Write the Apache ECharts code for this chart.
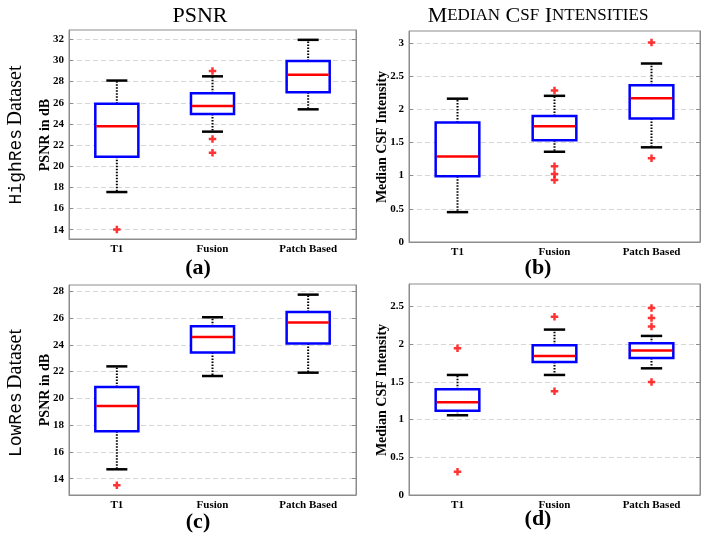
<!DOCTYPE html>
<html><head><meta charset="utf-8">
<script src="https://cdn.jsdelivr.net/npm/echarts@6/dist/echarts.min.js"></script>
<style>html,body{margin:0;padding:0;background:#fff}#c{width:708px;height:541px}</style>
</head><body><div id="c"></div><script>
// ---------- data ----------
const categories = ['T1', 'Fusion', 'Patch Based'];
// each box: [lower whisker, Q1, median, Q3, upper whisker]
const psnrHighBoxes = [[17.56, 20.89, 23.78, 25.90, 28.10], [23.27, 24.95, 25.69, 26.90, 28.50], [25.38, 27.00, 28.66, 29.95, 31.95]];
const psnrHighOutliers = [[0, 14.03], [1, 29.00], [1, 22.57], [1, 21.27]];
const csfHighBoxes = [[0.45, 0.99, 1.29, 1.80, 2.16], [1.36, 1.533, 1.743, 1.898, 2.203], [1.427, 1.863, 2.168, 2.364, 2.69]];
const csfHighOutliers = [[1, 2.284], [1, 1.142], [1, 1.026], [1, 0.936], [2, 3.005], [2, 1.262]];
const psnrLowBoxes = [[14.70, 17.54, 19.43, 20.85, 22.39], [21.67, 23.42, 24.59, 25.38, 26.06], [21.92, 24.09, 25.66, 26.46, 27.75]];
const psnrLowOutliers = [[0, 13.50]];
const csfLowBoxes = [[1.058, 1.119, 1.230, 1.403, 1.593], [1.593, 1.765, 1.845, 1.987, 2.195], [1.681, 1.819, 1.916, 2.013, 2.111]];
const csfLowOutliers = [[0, 1.947], [0, 0.31], [1, 2.367], [1, 1.376], [2, 2.482], [2, 2.35], [2, 2.235], [2, 1.50]];
const psnrHighTicks = [14, 16, 18, 20, 22, 24, 26, 28, 30, 32];
const csfHighTicks = [0, 0.5, 1, 1.5, 2, 2.5, 3];
const psnrLowTicks = [14, 16, 18, 20, 22, 24, 26, 28];
const csfLowTicks = [0, 0.5, 1, 1.5, 2, 2.5];
const psnrHighLimits = [13.12, 32.88];
const csfHighLimits = [0, 3.18];
const psnrLowLimits = [12.78, 28.47];
const csfLowLimits = [0, 2.8];
const columnTitles = ['PSNR', 'Median CSF Intensities'];
const rowLabels = [['HighRes', 'Dataset'], ['LowRes', 'Dataset']];
const yNames = ['PSNR in dB', 'Median CSF Intensity', 'PSNR in dB', 'Median CSF Intensity'];
const panelLabels = ['(a)', '(b)', '(c)', '(d)'];

// ---------- layout ----------
const grids = [
  {left: 69, top: 30, width: 287, height: 209},
  {left: 409, top: 31, width: 291, height: 211},
  {left: 69, top: 285, width: 287, height: 210},
  {left: 409, top: 284, width: 291, height: 211}
];
const panels = [
  {boxes: psnrHighBoxes, outliers: psnrHighOutliers, ticks: psnrHighTicks, lim: psnrHighLimits},
  {boxes: csfHighBoxes, outliers: csfHighOutliers, ticks: csfHighTicks, lim: csfHighLimits},
  {boxes: psnrLowBoxes, outliers: psnrLowOutliers, ticks: psnrLowTicks, lim: psnrLowLimits},
  {boxes: csfLowBoxes, outliers: csfLowOutliers, ticks: csfLowTicks, lim: csfLowLimits}
];
const SERIF = "'Liberation Serif', 'DejaVu Serif', serif";
const MONO = "'Liberation Mono', 'DejaVu Sans Mono', monospace";

function renderBox(params, api) {
  const x = api.value(0);
  const lo = api.coord([x, api.value(1)]);
  const q1 = api.coord([x, api.value(2)]);
  const md = api.coord([x, api.value(3)]);
  const q3 = api.coord([x, api.value(4)]);
  const hi = api.coord([x, api.value(5)]);
  const band = api.size([1, 0])[0];
  const bw = band * 0.45, cw = band * 0.22;
  const cx = lo[0];
  const dot = {stroke: '#000', lineWidth: 2, lineDash: [1.5, 1.5]};
  const cap = {stroke: '#000', lineWidth: 2.5};
  return {type: 'group', children: [
    {type: 'line', shape: {x1: cx, y1: q3[1], x2: cx, y2: hi[1]}, style: dot},
    {type: 'line', shape: {x1: cx, y1: q1[1], x2: cx, y2: lo[1]}, style: dot},
    {type: 'line', shape: {x1: cx - cw / 2, y1: hi[1], x2: cx + cw / 2, y2: hi[1]}, style: cap},
    {type: 'line', shape: {x1: cx - cw / 2, y1: lo[1], x2: cx + cw / 2, y2: lo[1]}, style: cap},
    {type: 'rect', shape: {x: cx - bw / 2, y: q3[1], width: bw, height: q1[1] - q3[1]}, style: {fill: '#fff', stroke: '#0000ff', lineWidth: 2.5}},
    {type: 'line', shape: {x1: cx - bw / 2 + 1, y1: md[1], x2: cx + bw / 2 - 1, y2: md[1]}, style: {stroke: '#ff0000', lineWidth: 2.5}}
  ]};
}

const xAxis = [], yAxis = [], series = [], grid = [];
panels.forEach((p, i) => {
  grid.push(Object.assign({show: true, borderColor: '#8c8c8c', borderWidth: 1, backgroundColor: '#fff'}, grids[i]));
  xAxis.push({
    type: 'category', gridIndex: i, data: categories, boundaryGap: true,
    axisTick: {show: false},
    axisLine: {lineStyle: {color: '#8c8c8c', width: 1}},
    axisLabel: {margin: 5, color: '#000', fontFamily: SERIF, fontWeight: 'bold', fontSize: 11},
    splitLine: {show: false}
  });
  yAxis.push({
    type: 'value', gridIndex: i, min: p.lim[0], max: p.lim[1],
    axisLine: {show: true, lineStyle: {color: '#8c8c8c', width: 1}},
    axisTick: {show: true, inside: true, length: 4, customValues: p.ticks, lineStyle: {color: '#8c8c8c'}},
    axisLabel: {customValues: p.ticks, margin: 5, color: '#000', fontFamily: SERIF, fontWeight: 'bold', fontSize: 11},
    splitLine: {show: true, lineStyle: {color: '#d6d6d6', type: [5, 3], width: 1}}
  });
  yAxis.push({
    type: 'value', gridIndex: i, min: p.lim[0], max: p.lim[1], position: 'right',
    axisLine: {show: true, lineStyle: {color: '#8c8c8c', width: 1}},
    axisTick: {show: true, inside: true, length: 4, customValues: p.ticks, lineStyle: {color: '#8c8c8c'}},
    axisLabel: {show: false},
    splitLine: {show: false}
  });
  series.push({
    type: 'custom', xAxisIndex: i, yAxisIndex: 2 * i, renderItem: renderBox,
    data: p.boxes.map((b, k) => [k].concat(b)),
    encode: {x: 0, y: [1, 2, 3, 4, 5]}, z: 3, silent: true
  });
  series.push({
    type: 'scatter', xAxisIndex: i, yAxisIndex: 2 * i, data: p.outliers,
    symbol: 'path://M-1,-3H1V-1H3V1H1V3H-1V1H-3V-1H-1Z', symbolSize: 7.5,
    itemStyle: {color: '#ff0000'}, z: 4, silent: true
  });
});

// ---------- text ----------
const graphic = [];
// column titles
graphic.push({type: 'text', x: 200, y: 16, style: {text: columnTitles[0], font: '22px ' + SERIF, fill: '#000', align: 'center', verticalAlign: 'middle'}});
function smallCaps(s) {
  return s.split(' ').map(w => '{b|' + w[0].toUpperCase() + '}{s|' + w.slice(1).toUpperCase() + '}').join('{b| }');
}
graphic.push({type: 'text', x: 538, y: 16, style: {
  text: smallCaps(columnTitles[1]), fill: '#000', align: 'center', verticalAlign: 'middle',
  rich: {b: {fontFamily: SERIF, fontSize: 22, fill: '#000'}, s: {fontFamily: SERIF, fontSize: 17, fill: '#000'}}
}});
// row labels
[[16, 135], [16, 393]].forEach((pos, r) => {
  graphic.push({type: 'text', x: pos[0], y: pos[1], rotation: Math.PI / 2, style: {
    text: '{m|' + rowLabels[r][0] + '} {s|' + rowLabels[r][1] + '}', align: 'center', verticalAlign: 'middle', fill: '#000',
    rich: {m: {fontFamily: MONO, fontSize: 18, fill: '#000'}, s: {fontFamily: SERIF, fontSize: 20, fill: '#000'}}
  }});
});
// y axis names
[[45, 135], [382, 137], [45, 390], [382, 390]].forEach((pos, i) => {
  graphic.push({type: 'text', x: pos[0], y: pos[1], rotation: Math.PI / 2, style: {
    text: yNames[i], font: 'bold 14px ' + SERIF, fill: '#000', align: 'center', verticalAlign: 'middle'
  }});
});
// panel labels
[[198, 268], [538, 268], [198, 522], [538, 519]].forEach((pos, i) => {
  graphic.push({type: 'text', x: pos[0], y: pos[1], style: {
    text: panelLabels[i], font: 'bold 22px ' + SERIF, fill: '#000', align: 'center', verticalAlign: 'middle'
  }});
});

const chart = echarts.init(document.getElementById('c'), null, {renderer: 'canvas'});
chart.setOption({animation: false, backgroundColor: '#fff', grid, xAxis, yAxis, series, graphic});
</script></body></html>
